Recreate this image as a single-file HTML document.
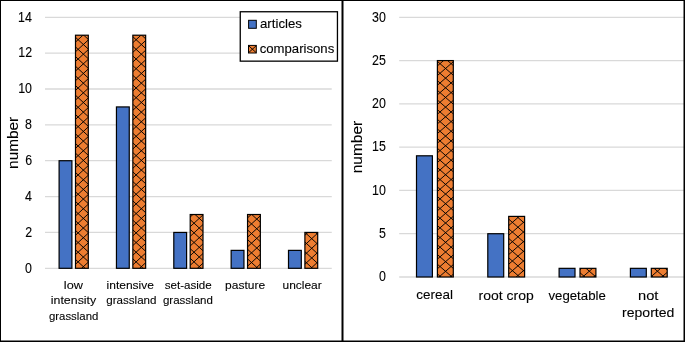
<!DOCTYPE html>
<html><head><meta charset="utf-8"><title>chart</title><style>html,body{margin:0;padding:0;background:#fff;width:685px;height:342px;overflow:hidden}svg{display:block;will-change:transform}text{font-family:"Liberation Sans", sans-serif;fill:#000000;stroke:#000;stroke-width:0.1px}</style></head><body>
<svg width="685" height="342" viewBox="0 0 685 342">
<defs>
<clipPath id="pl0"><rect x="75.50" y="35.21" width="12.80" height="233.09"/></clipPath>
<clipPath id="pl1"><rect x="132.85" y="35.21" width="12.80" height="233.09"/></clipPath>
<clipPath id="pl2"><rect x="190.20" y="214.51" width="12.80" height="53.79"/></clipPath>
<clipPath id="pl3"><rect x="247.55" y="214.51" width="12.80" height="53.79"/></clipPath>
<clipPath id="pl4"><rect x="304.90" y="232.44" width="12.80" height="35.86"/></clipPath>
<clipPath id="pr0"><rect x="437.40" y="60.57" width="15.90" height="216.43"/></clipPath>
<clipPath id="pr1"><rect x="508.70" y="216.40" width="15.90" height="60.60"/></clipPath>
<clipPath id="pr2"><rect x="580.00" y="268.34" width="15.90" height="8.66"/></clipPath>
<clipPath id="pr3"><rect x="651.30" y="268.34" width="15.90" height="8.66"/></clipPath>
<clipPath id="plg"><rect x="248.50" y="45.40" width="7.80" height="7.60"/></clipPath>
</defs>
<line x1="45.00" y1="268.30" x2="331.75" y2="268.30" stroke="#D9D9D9" stroke-width="1.30"/>
<line x1="45.00" y1="232.44" x2="331.75" y2="232.44" stroke="#D9D9D9" stroke-width="1.30"/>
<line x1="45.00" y1="196.58" x2="331.75" y2="196.58" stroke="#D9D9D9" stroke-width="1.30"/>
<line x1="45.00" y1="160.72" x2="331.75" y2="160.72" stroke="#D9D9D9" stroke-width="1.30"/>
<line x1="45.00" y1="124.86" x2="331.75" y2="124.86" stroke="#D9D9D9" stroke-width="1.30"/>
<line x1="45.00" y1="89.00" x2="331.75" y2="89.00" stroke="#D9D9D9" stroke-width="1.30"/>
<line x1="45.00" y1="53.14" x2="331.75" y2="53.14" stroke="#D9D9D9" stroke-width="1.30"/>
<line x1="45.00" y1="17.28" x2="331.75" y2="17.28" stroke="#D9D9D9" stroke-width="1.30"/>
<line x1="399.20" y1="277.00" x2="684.00" y2="277.00" stroke="#D9D9D9" stroke-width="1.30"/>
<line x1="399.20" y1="233.72" x2="684.00" y2="233.72" stroke="#D9D9D9" stroke-width="1.30"/>
<line x1="399.20" y1="190.43" x2="684.00" y2="190.43" stroke="#D9D9D9" stroke-width="1.30"/>
<line x1="399.20" y1="147.15" x2="684.00" y2="147.15" stroke="#D9D9D9" stroke-width="1.30"/>
<line x1="399.20" y1="103.86" x2="684.00" y2="103.86" stroke="#D9D9D9" stroke-width="1.30"/>
<line x1="399.20" y1="60.57" x2="684.00" y2="60.57" stroke="#D9D9D9" stroke-width="1.30"/>
<line x1="399.20" y1="17.29" x2="684.00" y2="17.29" stroke="#D9D9D9" stroke-width="1.30"/>
<rect x="59.10" y="160.72" width="12.80" height="107.58" fill="#4472C4" stroke="#000" stroke-width="1.20"/>
<rect x="75.50" y="35.21" width="12.80" height="233.09" fill="#ED7D31"/><path clip-path="url(#pl0)" d="M73.500 267.288L90.300 282.744M73.500 257.628L90.300 273.084M73.500 247.968L90.300 263.424M73.500 238.308L90.300 253.764M73.500 228.648L90.300 244.104M73.500 218.988L90.300 234.444M73.500 209.328L90.300 224.784M73.500 199.668L90.300 215.124M73.500 190.008L90.300 205.464M73.500 180.348L90.300 195.804M73.500 170.688L90.300 186.144M73.500 161.028L90.300 176.484M73.500 151.368L90.300 166.824M73.500 141.708L90.300 157.164M73.500 132.048L90.300 147.504M73.500 122.388L90.300 137.844M73.500 112.728L90.300 128.184M73.500 103.068L90.300 118.524M73.500 93.408L90.300 108.864M73.500 83.748L90.300 99.204M73.500 74.088L90.300 89.544M73.500 64.428L90.300 79.884M73.500 54.768L90.300 70.224M73.500 45.108L90.300 60.564M73.500 35.448L90.300 50.904M73.500 25.788L90.300 41.244M73.500 34.252L90.300 18.796M73.500 43.912L90.300 28.456M73.500 53.572L90.300 38.116M73.500 63.232L90.300 47.776M73.500 72.892L90.300 57.436M73.500 82.552L90.300 67.096M73.500 92.212L90.300 76.756M73.500 101.872L90.300 86.416M73.500 111.532L90.300 96.076M73.500 121.192L90.300 105.736M73.500 130.852L90.300 115.396M73.500 140.512L90.300 125.056M73.500 150.172L90.300 134.716M73.500 159.832L90.300 144.376M73.500 169.492L90.300 154.036M73.500 179.152L90.300 163.696M73.500 188.812L90.300 173.356M73.500 198.472L90.300 183.016M73.500 208.132L90.300 192.676M73.500 217.792L90.300 202.336M73.500 227.452L90.300 211.996M73.500 237.112L90.300 221.656M73.500 246.772L90.300 231.316M73.500 256.432L90.300 240.976M73.500 266.092L90.300 250.636M73.500 275.752L90.300 260.296M73.500 285.412L90.300 269.956" stroke="#000" stroke-width="0.95" fill="none"/>
<rect x="75.50" y="35.21" width="12.80" height="233.09" fill="none" stroke="#000" stroke-width="1.20"/>
<rect x="116.45" y="106.93" width="12.80" height="161.37" fill="#4472C4" stroke="#000" stroke-width="1.20"/>
<rect x="132.85" y="35.21" width="12.80" height="233.09" fill="#ED7D31"/><path clip-path="url(#pl1)" d="M130.850 266.690L147.650 282.146M130.850 257.030L147.650 272.486M130.850 247.370L147.650 262.826M130.850 237.710L147.650 253.166M130.850 228.050L147.650 243.506M130.850 218.390L147.650 233.846M130.850 208.730L147.650 224.186M130.850 199.070L147.650 214.526M130.850 189.410L147.650 204.866M130.850 179.750L147.650 195.206M130.850 170.090L147.650 185.546M130.850 160.430L147.650 175.886M130.850 150.770L147.650 166.226M130.850 141.110L147.650 156.566M130.850 131.450L147.650 146.906M130.850 121.790L147.650 137.246M130.850 112.130L147.650 127.586M130.850 102.470L147.650 117.926M130.850 92.810L147.650 108.266M130.850 83.150L147.650 98.606M130.850 73.490L147.650 88.946M130.850 63.830L147.650 79.286M130.850 54.170L147.650 69.626M130.850 44.510L147.650 59.966M130.850 34.850L147.650 50.306M130.850 25.190L147.650 40.646M130.850 34.850L147.650 19.394M130.850 44.510L147.650 29.054M130.850 54.170L147.650 38.714M130.850 63.830L147.650 48.374M130.850 73.490L147.650 58.034M130.850 83.150L147.650 67.694M130.850 92.810L147.650 77.354M130.850 102.470L147.650 87.014M130.850 112.130L147.650 96.674M130.850 121.790L147.650 106.334M130.850 131.450L147.650 115.994M130.850 141.110L147.650 125.654M130.850 150.770L147.650 135.314M130.850 160.430L147.650 144.974M130.850 170.090L147.650 154.634M130.850 179.750L147.650 164.294M130.850 189.410L147.650 173.954M130.850 199.070L147.650 183.614M130.850 208.730L147.650 193.274M130.850 218.390L147.650 202.934M130.850 228.050L147.650 212.594M130.850 237.710L147.650 222.254M130.850 247.370L147.650 231.914M130.850 257.030L147.650 241.574M130.850 266.690L147.650 251.234M130.850 276.350L147.650 260.894" stroke="#000" stroke-width="0.95" fill="none"/>
<rect x="132.85" y="35.21" width="12.80" height="233.09" fill="none" stroke="#000" stroke-width="1.20"/>
<rect x="173.80" y="232.44" width="12.80" height="35.86" fill="#4472C4" stroke="#000" stroke-width="1.20"/>
<rect x="190.20" y="214.51" width="12.80" height="53.79" fill="#ED7D31"/><path clip-path="url(#pl2)" d="M188.200 266.144L205.000 281.600M188.200 256.484L205.000 271.940M188.200 246.824L205.000 262.280M188.200 237.164L205.000 252.620M188.200 227.504L205.000 242.960M188.200 217.844L205.000 233.300M188.200 208.184L205.000 223.640M188.200 198.524L205.000 213.980M188.200 218.856L205.000 203.400M188.200 228.516L205.000 213.060M188.200 238.176L205.000 222.720M188.200 247.836L205.000 232.380M188.200 257.496L205.000 242.040M188.200 267.156L205.000 251.700M188.200 276.816L205.000 261.360" stroke="#000" stroke-width="0.95" fill="none"/>
<rect x="190.20" y="214.51" width="12.80" height="53.79" fill="none" stroke="#000" stroke-width="1.20"/>
<rect x="231.15" y="250.37" width="12.80" height="17.93" fill="#4472C4" stroke="#000" stroke-width="1.20"/>
<rect x="247.55" y="214.51" width="12.80" height="53.79" fill="#ED7D31"/><path clip-path="url(#pl3)" d="M245.550 266.726L262.350 282.182M245.550 257.066L262.350 272.522M245.550 247.406L262.350 262.862M245.550 237.746L262.350 253.202M245.550 228.086L262.350 243.542M245.550 218.426L262.350 233.882M245.550 208.766L262.350 224.222M245.550 199.106L262.350 214.562M245.550 219.714L262.350 204.258M245.550 229.374L262.350 213.918M245.550 239.034L262.350 223.578M245.550 248.694L262.350 233.238M245.550 258.354L262.350 242.898M245.550 268.014L262.350 252.558M245.550 277.674L262.350 262.218" stroke="#000" stroke-width="0.95" fill="none"/>
<rect x="247.55" y="214.51" width="12.80" height="53.79" fill="none" stroke="#000" stroke-width="1.20"/>
<rect x="288.50" y="250.37" width="12.80" height="17.93" fill="#4472C4" stroke="#000" stroke-width="1.20"/>
<rect x="304.90" y="232.44" width="12.80" height="35.86" fill="#ED7D31"/><path clip-path="url(#pl4)" d="M302.900 269.184L319.700 284.640M302.900 259.524L319.700 274.980M302.900 249.864L319.700 265.320M302.900 240.204L319.700 255.660M302.900 230.544L319.700 246.000M302.900 220.884L319.700 236.340M302.900 237.076L319.700 221.620M302.900 246.736L319.700 231.280M302.900 256.396L319.700 240.940M302.900 266.056L319.700 250.600M302.900 275.716L319.700 260.260M302.900 285.376L319.700 269.920" stroke="#000" stroke-width="0.95" fill="none"/>
<rect x="304.90" y="232.44" width="12.80" height="35.86" fill="none" stroke="#000" stroke-width="1.20"/>
<rect x="416.50" y="155.80" width="15.90" height="121.20" fill="#4472C4" stroke="#000" stroke-width="1.20"/>
<rect x="437.40" y="60.57" width="15.90" height="216.43" fill="#ED7D31"/><path clip-path="url(#pr0)" d="M435.400 272.157L455.300 289.475M435.400 262.497L455.300 279.815M435.400 252.837L455.300 270.155M435.400 243.177L455.300 260.495M435.400 233.517L455.300 250.835M435.400 223.857L455.300 241.175M435.400 214.197L455.300 231.515M435.400 204.537L455.300 221.855M435.400 194.877L455.300 212.195M435.400 185.217L455.300 202.535M435.400 175.557L455.300 192.875M435.400 165.897L455.300 183.215M435.400 156.237L455.300 173.555M435.400 146.577L455.300 163.895M435.400 136.917L455.300 154.235M435.400 127.257L455.300 144.575M435.400 117.597L455.300 134.915M435.400 107.937L455.300 125.255M435.400 98.277L455.300 115.595M435.400 88.617L455.300 105.935M435.400 78.957L455.300 96.275M435.400 69.297L455.300 86.615M435.400 59.637L455.300 76.955M435.400 49.977L455.300 67.295M435.400 67.643L455.300 50.325M435.400 77.303L455.300 59.985M435.400 86.963L455.300 69.645M435.400 96.623L455.300 79.305M435.400 106.283L455.300 88.965M435.400 115.943L455.300 98.625M435.400 125.603L455.300 108.285M435.400 135.263L455.300 117.945M435.400 144.923L455.300 127.605M435.400 154.583L455.300 137.265M435.400 164.243L455.300 146.925M435.400 173.903L455.300 156.585M435.400 183.563L455.300 166.245M435.400 193.223L455.300 175.905M435.400 202.883L455.300 185.565M435.400 212.543L455.300 195.225M435.400 222.203L455.300 204.885M435.400 231.863L455.300 214.545M435.400 241.523L455.300 224.205M435.400 251.183L455.300 233.865M435.400 260.843L455.300 243.525M435.400 270.503L455.300 253.185M435.400 280.163L455.300 262.845M435.400 289.823L455.300 272.505" stroke="#000" stroke-width="0.95" fill="none"/>
<rect x="437.40" y="60.57" width="15.90" height="216.43" fill="none" stroke="#000" stroke-width="1.20"/>
<rect x="487.80" y="233.72" width="15.90" height="43.28" fill="#4472C4" stroke="#000" stroke-width="1.20"/>
<rect x="508.70" y="216.40" width="15.90" height="60.60" fill="#ED7D31"/><path clip-path="url(#pr1)" d="M506.700 275.359L526.600 292.678M506.700 265.699L526.600 283.018M506.700 256.039L526.600 273.358M506.700 246.379L526.600 263.698M506.700 236.719L526.600 254.038M506.700 227.059L526.600 244.378M506.700 217.399L526.600 234.718M506.700 207.739L526.600 225.058M506.700 198.079L526.600 215.398M506.700 217.661L526.600 200.342M506.700 227.321L526.600 210.002M506.700 236.981L526.600 219.662M506.700 246.641L526.600 229.322M506.700 256.301L526.600 238.982M506.700 265.961L526.600 248.642M506.700 275.621L526.600 258.302M506.700 285.281L526.600 267.962M506.700 294.941L526.600 277.622" stroke="#000" stroke-width="0.95" fill="none"/>
<rect x="508.70" y="216.40" width="15.90" height="60.60" fill="none" stroke="#000" stroke-width="1.20"/>
<rect x="559.10" y="268.34" width="15.90" height="8.66" fill="#4472C4" stroke="#000" stroke-width="1.20"/>
<rect x="580.00" y="268.34" width="15.90" height="8.66" fill="#ED7D31"/><path clip-path="url(#pr2)" d="M578.000 271.026L597.900 288.344M578.000 261.366L597.900 278.684M578.000 251.706L597.900 269.024M578.000 271.374L597.900 254.056M578.000 281.034L597.900 263.716M578.000 290.694L597.900 273.376" stroke="#000" stroke-width="0.95" fill="none"/>
<rect x="580.00" y="268.34" width="15.90" height="8.66" fill="none" stroke="#000" stroke-width="1.20"/>
<rect x="630.40" y="268.34" width="15.90" height="8.66" fill="#4472C4" stroke="#000" stroke-width="1.20"/>
<rect x="651.30" y="268.34" width="15.90" height="8.66" fill="#ED7D31"/><path clip-path="url(#pr3)" d="M649.300 273.811L669.200 291.129M649.300 264.151L669.200 281.469M649.300 254.491L669.200 271.809M649.300 268.589L669.200 251.271M649.300 278.249L669.200 260.931M649.300 287.909L669.200 270.591" stroke="#000" stroke-width="0.95" fill="none"/>
<rect x="651.30" y="268.34" width="15.90" height="8.66" fill="none" stroke="#000" stroke-width="1.20"/>
<text x="25.10" y="272.60" font-size="13.80" textLength="6.91" lengthAdjust="spacingAndGlyphs">0</text>
<text x="25.23" y="236.74" font-size="13.80" textLength="6.91" lengthAdjust="spacingAndGlyphs">2</text>
<text x="24.98" y="200.88" font-size="13.80" textLength="6.91" lengthAdjust="spacingAndGlyphs">4</text>
<text x="25.17" y="165.02" font-size="13.80" textLength="6.91" lengthAdjust="spacingAndGlyphs">6</text>
<text x="25.10" y="129.16" font-size="13.80" textLength="6.91" lengthAdjust="spacingAndGlyphs">8</text>
<text x="18.21" y="93.30" font-size="13.80" textLength="13.82" lengthAdjust="spacingAndGlyphs">10</text>
<text x="18.33" y="57.44" font-size="13.80" textLength="13.82" lengthAdjust="spacingAndGlyphs">12</text>
<text x="18.09" y="21.58" font-size="13.80" textLength="13.82" lengthAdjust="spacingAndGlyphs">14</text>
<text x="379.00" y="281.30" font-size="13.80" textLength="6.91" lengthAdjust="spacingAndGlyphs">0</text>
<text x="379.00" y="238.01" font-size="13.80" textLength="6.91" lengthAdjust="spacingAndGlyphs">5</text>
<text x="372.11" y="194.73" font-size="13.80" textLength="13.82" lengthAdjust="spacingAndGlyphs">10</text>
<text x="372.11" y="151.44" font-size="13.80" textLength="13.82" lengthAdjust="spacingAndGlyphs">15</text>
<text x="372.11" y="108.16" font-size="13.80" textLength="13.82" lengthAdjust="spacingAndGlyphs">20</text>
<text x="372.11" y="64.87" font-size="13.80" textLength="13.82" lengthAdjust="spacingAndGlyphs">25</text>
<text x="372.11" y="21.59" font-size="13.80" textLength="13.82" lengthAdjust="spacingAndGlyphs">30</text>
<text transform="rotate(-90)" x="-168.90" y="18.40" font-size="14.50" textLength="52.14" lengthAdjust="spacingAndGlyphs">number</text>
<text transform="rotate(-90)" x="-173.31" y="362.20" font-size="14.50" textLength="52.45" lengthAdjust="spacingAndGlyphs">number</text>
<text x="63.87" y="288.90" font-size="11.70" textLength="19.07" lengthAdjust="spacingAndGlyphs">low</text>
<text x="50.79" y="304.20" font-size="11.70" textLength="45.45" lengthAdjust="spacingAndGlyphs">intensity</text>
<text x="48.94" y="319.60" font-size="11.70" textLength="49.41" lengthAdjust="spacingAndGlyphs">grassland</text>
<text x="106.62" y="288.70" font-size="11.70" textLength="47.34" lengthAdjust="spacingAndGlyphs">intensive</text>
<text x="106.24" y="303.90" font-size="11.70" textLength="50.23" lengthAdjust="spacingAndGlyphs">grassland</text>
<text x="164.75" y="288.70" font-size="11.70" textLength="47.00" lengthAdjust="spacingAndGlyphs">set-aside</text>
<text x="162.94" y="303.90" font-size="11.70" textLength="49.92" lengthAdjust="spacingAndGlyphs">grassland</text>
<text x="225.12" y="288.70" font-size="11.70" textLength="40.03" lengthAdjust="spacingAndGlyphs">pasture</text>
<text x="282.52" y="288.70" font-size="11.70" textLength="39.22" lengthAdjust="spacingAndGlyphs">unclear</text>
<text x="416.39" y="299.40" font-size="12.20" textLength="36.73" lengthAdjust="spacingAndGlyphs">cereal</text>
<text x="478.59" y="299.70" font-size="12.20" textLength="55.09" lengthAdjust="spacingAndGlyphs">root crop</text>
<text x="548.43" y="300.00" font-size="12.20" textLength="57.39" lengthAdjust="spacingAndGlyphs">vegetable</text>
<text x="638.05" y="299.90" font-size="12.20" textLength="20.40" lengthAdjust="spacingAndGlyphs">not</text>
<text x="622.09" y="316.80" font-size="12.20" textLength="52.32" lengthAdjust="spacingAndGlyphs">reported</text>
<rect x="240.25" y="11.75" width="97.20" height="49.40" fill="#fff" stroke="#000" stroke-width="1.30"/>
<rect x="248.60" y="20.30" width="7.70" height="8.00" fill="#4472C4" stroke="#000" stroke-width="1.00"/>
<rect x="248.50" y="45.40" width="7.80" height="7.60" fill="#ED7D31"/><path clip-path="url(#plg)" d="M246.500 53.432L258.300 64.288M246.500 43.772L258.300 54.628M246.500 34.112L258.300 44.968M246.500 44.968L258.300 34.112M246.500 54.628L258.300 43.772M246.500 64.288L258.300 53.432" stroke="#000" stroke-width="0.95" fill="none"/>
<rect x="248.50" y="45.40" width="7.80" height="7.60" fill="none" stroke="#000" stroke-width="1.00"/>
<text x="260.00" y="28.10" font-size="12.20" textLength="41.93" lengthAdjust="spacingAndGlyphs">articles</text>
<text x="259.71" y="53.00" font-size="12.20" textLength="74.54" lengthAdjust="spacingAndGlyphs">comparisons</text>
<rect x="0" y="0" width="685" height="1" fill="#000"/>
<rect x="0" y="0" width="1" height="342" fill="#000"/>
<rect x="341.50" y="0" width="2.00" height="342" fill="#000"/>
<rect x="683.5" y="0" width="1.5" height="342" fill="#000"/>
<rect x="0" y="340.5" width="685" height="1.5" fill="#000"/>
</svg>
</body></html>
